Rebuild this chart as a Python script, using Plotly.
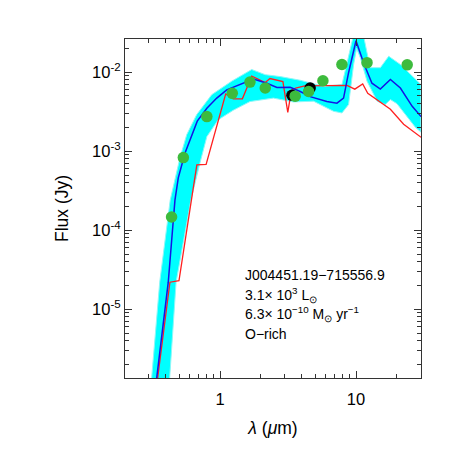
import plotly.graph_objects as go

# photometry (green) and extra epochs (black)
obs_wave = [0.44, 0.537, 0.80, 1.23, 1.66, 2.15, 3.57, 4.48, 5.71, 7.88, 12.05, 23.8]
obs_flux = [1.47e-4, 8.3e-4, 2.74e-3, 5.4e-3, 7.5e-3, 6.3e-3, 4.97e-3, 5.7e-3, 7.8e-3, 1.25e-2, 1.32e-2, 1.24e-2]
extra_wave = [3.38, 4.6]
extra_flux = [5.1e-3, 6.3e-3]

# best-fit model (blue)
best_wave = [0.319, 0.416, 0.466, 0.493, 0.552, 0.68, 0.80, 0.946, 1.12, 1.49, 1.76, 2.21, 2.62,
             3.28, 3.89, 4.6, 6.1, 7.24, 8.1, 8.8, 10.0, 11.4, 13.1, 15.1, 17.9, 21.2, 25.9, 30.1]
best_flux = [5e-7, 2.2e-5, 2.4e-4, 4.6e-4, 9.4e-4, 2.4e-3, 3.5e-3, 4.7e-3, 5.97e-3, 7.25e-3, 8.2e-3,
             7.25e-3, 6.4e-3, 6.45e-3, 5.7e-3, 4.9e-3, 4.25e-3, 4.05e-3, 4.7e-3, 9.7e-3, 2.5e-2,
             1.3e-2, 7.25e-3, 6.1e-3, 8.1e-3, 6.3e-3, 3.7e-3, 2.74e-3]

# photosphere (red)
phot_wave = [0.323, 0.428, 0.499, 0.675, 0.79, 1.1, 1.25, 1.46, 1.71, 2.15, 2.33, 2.9, 3.15, 3.35,
             3.6, 4.2, 8.6, 9.8, 11.2, 12.2, 17.9, 22.4, 30.1]
phot_flux = [5e-7, 2.2e-5, 2.3e-5, 6.7e-4, 6.8e-4, 5.3e-3, 4.6e-3, 4.6e-3, 8.9e-3, 7.4e-3, 8.3e-3,
             7.6e-3, 3.1e-3, 5.9e-3, 6.3e-3, 6.7e-3, 6.8e-3, 6.1e-3, 7.1e-3, 5.4e-3, 3.4e-3,
             2.2e-3, 1.5e-3]

# envelope of acceptable models (cyan)
upper_wave = [0.305, 0.314, 0.36, 0.43, 0.507, 0.569, 0.673, 0.869, 1.22, 1.71, 2.15, 2.77, 3.89,
              5.77, 7.88, 8.82, 10.0, 11.1, 12.7, 15.1, 17.4, 21.2, 30.0]
upper_flux = [5e-7, 1.35e-6, 2.2e-5, 2.4e-4, 8.2e-4, 1.62e-3, 2.9e-3, 5.2e-3, 7.7e-3, 1.08e-2,
              9.3e-3, 8.8e-3, 7.9e-3, 6.6e-3, 6.97e-3, 1.66e-2, 4e-2, 3.5e-2, 1.14e-2, 1.14e-2,
              1.59e-2, 1.25e-2, 7e-3]
lower_wave = [0.41, 0.475, 0.61, 0.71, 0.80, 0.97, 1.25, 1.66, 2.47, 3.47, 4.87, 6.84, 7.88, 8.82,
              9.6, 10.1, 10.8, 12.05, 14.3, 16.4, 17.9, 20.0, 27.4, 30.0]
lower_flux = [5e-7, 2.2e-5, 2.4e-4, 7e-4, 1.53e-3, 2.5e-3, 3.3e-3, 4.25e-3, 4.7e-3, 4.2e-3, 4.3e-3,
              3.2e-3, 3.05e-3, 3.9e-3, 1.25e-2, 2.0e-2, 1.5e-2, 7.7e-3, 4.3e-3, 3.9e-3, 4.5e-3,
              4.0e-3, 2.0e-3, 1.75e-3]

x_ticks = [1, 10]
x_minor = [0.2, 0.3, 0.4, 0.5, 0.6, 0.7, 0.8, 0.9, 2, 3, 4, 5, 6, 7, 8, 9, 20, 30]
y_ticks = [1e-5, 1e-4, 1e-3, 1e-2]
y_labels = ["10<sup>-5</sup>", "10<sup>-4</sup>", "10<sup>-3</sup>", "10<sup>-2</sup>"]
y_minor = [m * 10 ** e for e in range(-6, -1) for m in range(2, 10)]

label_lines = [
    "J004451.19\u2212715556.9",
    "3.1\u00d7 10<sup>3</sup> L<sub>\u2299</sub>",
    "6.3\u00d7 10<sup>\u221210</sup> M<sub>\u2299</sub> yr<sup>\u22121</sup>",
    "O\u2212rich",
]

fig = go.Figure()
fig.add_trace(go.Scatter(
    x=upper_wave + lower_wave[::-1], y=upper_flux + lower_flux[::-1],
    mode="lines", fill="toself", fillcolor="#00ffff",
    line={"color": "#8cf8f8", "width": 1}, hoverinfo="skip",
))
fig.add_trace(go.Scatter(x=phot_wave, y=phot_flux, mode="lines",
                         line={"color": "#ff2020", "width": 1.3}))
fig.add_trace(go.Scatter(x=best_wave, y=best_flux, mode="lines",
                         line={"color": "#1414e6", "width": 1.5}))
fig.add_trace(go.Scatter(x=extra_wave, y=extra_flux, mode="markers",
                         marker={"color": "black", "size": 11.5}))
fig.add_trace(go.Scatter(x=obs_wave, y=obs_flux, mode="markers",
                         marker={"color": "#3dbb3d", "size": 11.5}))

for i, txt in enumerate(label_lines):
    fig.add_annotation(x=0.399, y=0.304 - i * 0.058, xref="paper", yref="paper",
                       text=txt, showarrow=False, xanchor="left", yanchor="middle",
                       font={"size": 14, "color": "black", "family": "Liberation Sans"})

axis_common = dict(
    showgrid=False, zeroline=False, showline=True, linecolor="#333", linewidth=1,
    mirror="allticks", ticks="inside", ticklen=7, tickcolor="#333",
    tickfont={"size": 16.5, "color": "black"},
)
fig.update_xaxes(
    type="log", range=[-0.699, 1.478], tickmode="array", tickvals=x_ticks,
    ticktext=["1", "10"], ticklabelstandoff=6,
    minor={"tickmode": "array", "tickvals": x_minor, "ticks": "inside", "ticklen": 4,
           "tickcolor": "#333", "showgrid": False},
    title={"text": "<i>\u03bb</i> (<i>\u03bc</i>m)", "font": {"size": 17.5, "color": "black"},
           "standoff": 14},
    **axis_common,
)
fig.update_yaxes(
    type="log", range=[-5.87, -1.58], tickmode="array", tickvals=y_ticks, ticktext=y_labels,
    minor={"tickmode": "array", "tickvals": y_minor, "ticks": "inside", "ticklen": 4,
           "tickcolor": "#333", "showgrid": False},
    title={"text": "Flux (Jy)", "font": {"size": 17.5, "color": "black"}, "standoff": 18},
    **axis_common,
)
fig.update_layout(
    width=458, height=458, showlegend=False,
    paper_bgcolor="white", plot_bgcolor="white",
    font={"family": "Liberation Sans", "color": "black"},
    margin={"l": 117, "r": 45, "t": 31, "b": 88},
)
fig.write_html("out.html")
